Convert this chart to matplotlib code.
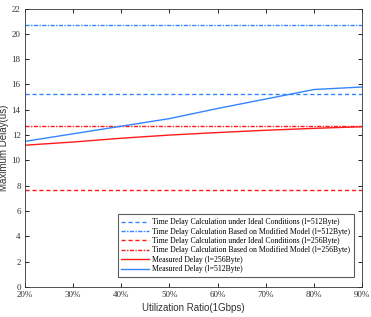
import matplotlib
matplotlib.use("Agg")
import matplotlib.pyplot as plt
import numpy as np

x = [20, 30, 40, 50, 60, 70, 80, 90]
xticklabels = ["20%", "30%", "40%", "50%", "60%", "70%", "80%", "90%"]
ideal_512 = 15.27
modified_512 = 20.7
ideal_256 = 7.62
modified_256 = 12.71
measured_256 = [11.2, 11.45, 11.75, 12.0, 12.2, 12.38, 12.53, 12.66]
measured_512 = [11.5, 12.1, 12.7, 13.3, 14.1, 14.85, 15.6, 15.8]

blue = "#3385ff"
red = "#ff1a1a"

fig = plt.figure(figsize=(3.71, 3.17), dpi=100)
ax = fig.add_axes([0.067, 0.095, 0.909, 0.878])

xs = [x[0], x[-1]]
ax.plot(xs, [ideal_512]*2, '--', color=blue, lw=1.0, dashes=(3, 2),
        label="Time Delay Calculation under Ideal Conditions (l=512Byte)")
ax.plot(xs, [modified_512]*2, '-.', color=blue, lw=1.0, dashes=(3, 1, 1, 1),
        label="Time Delay Calculation Based on Modified Model (l=512Byte)")
ax.plot(xs, [ideal_256]*2, '--', color=red, lw=1.0, dashes=(3, 2),
        label="Time Delay Calculation under Ideal Conditions (l=256Byte)")
ax.plot(xs, [modified_256]*2, '-.', color=red, lw=1.0, dashes=(3, 1, 1, 1),
        label="Time Delay Calculation Based on Modified Model (l=256Byte)")
ax.plot(x, measured_256, '-', color=red, lw=1.0, label="Measured Delay (l=256Byte)")
ax.plot(x, measured_512, '-', color=blue, lw=1.0, label="Measured Delay (l=512Byte)")

ax.set_xlim(20, 90)
ax.set_ylim(0, 22)
ax.set_xticks(x)
ax.set_xticklabels(xticklabels)
ax.set_yticks(range(0, 23, 2))
ax.tick_params(direction='in', top=True, right=True, length=3, width=0.6,
               labelsize=6.5, pad=3)
for lab in ax.get_xticklabels() + ax.get_yticklabels():
    lab.set_family("Liberation Serif")
    lab.set_color("#333333")
for s in ax.spines.values():
    s.set_linewidth(0.6)
    s.set_color("#333333")

ax.set_xlabel("Utilization Ratio(1Gbps)", family="Liberation Sans", fontsize=7, color="#333333", labelpad=3)
ax.set_ylabel("Maximum Delay(us)", family="Liberation Sans", fontsize=7, color="#333333", labelpad=2)

leg = ax.legend(loc="lower right", bbox_to_anchor=(0.975, 0.035),
                prop={"family": "Liberation Serif", "size": 5.6},
                frameon=True, fancybox=False, edgecolor="#333333",
                handlelength=3.6, handletextpad=0.3, labelspacing=0.18,
                borderpad=0.5, borderaxespad=0)
leg.get_frame().set_linewidth(0.8)

fig.savefig("out.png", dpi=100)
